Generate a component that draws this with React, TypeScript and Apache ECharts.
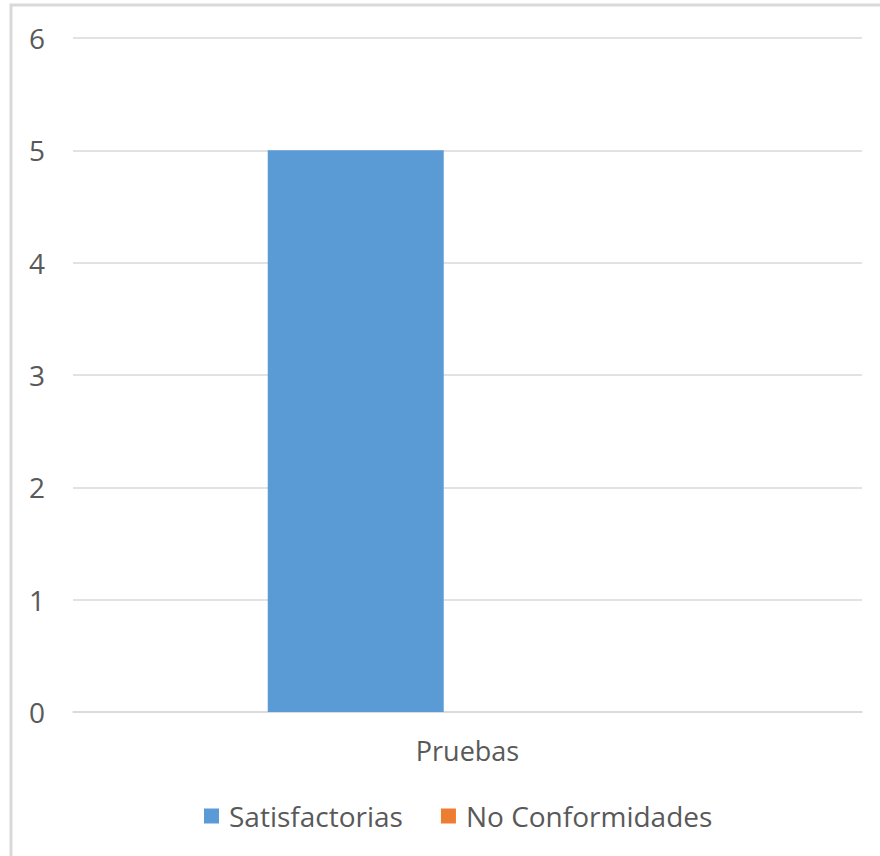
import React, { useEffect, useRef } from "react";
import * as echarts from "echarts";

const categories = ["Pruebas"];
const satisfactorias = [5];
const noConformidades = [0];
const seriesNames = ["Satisfactorias", "No Conformidades"];

export default function App() {
  const ref = useRef<HTMLDivElement>(null);
  useEffect(() => {
    document.body.style.margin = "0";
    const chart = echarts.init(ref.current!, null, { renderer: "svg" });
    const font = "'Open Sans', sans-serif";
    chart.setOption({
      animation: false,
      backgroundColor: "#ffffff",
      graphic: [
        {
          type: "rect",
          shape: { x: 11, y: 5, width: 900, height: 900 },
          style: { fill: "none", stroke: "#d9d9d9", lineWidth: 3 },
          silent: true,
        },
      ],
      grid: { left: 73, right: 18, top: 38, bottom: 144 },
      legend: {
        left: 199,
        top: 797,
        itemWidth: 15,
        itemHeight: 15,
        itemGap: 38,
        icon: "rect",
        textStyle: { fontFamily: font, fontSize: 28, color: "#595959", padding: [0, 0, 0, 5] },
        data: seriesNames,
      },
      xAxis: {
        type: "category",
        data: categories,
        axisLine: { show: true, lineStyle: { color: "#d9d9d9", width: 1.5 } },
        axisTick: { show: false },
        axisLabel: { fontFamily: font, fontSize: 27, color: "#595959", margin: 25 },
      },
      yAxis: {
        type: "value",
        min: 0,
        max: 6,
        interval: 1,
        axisLine: { show: false },
        axisTick: { show: false },
        splitLine: { lineStyle: { color: "#d9d9d9", width: 1.5 } },
        axisLabel: { fontFamily: font, fontSize: 28, color: "#595959", margin: 28 },
      },
      series: [
        {
          name: seriesNames[0],
          type: "bar",
          data: satisfactorias,
          itemStyle: { color: "#5b9bd5" },
          barWidth: 176,
          barGap: "27%",
        },
        {
          name: seriesNames[1],
          type: "bar",
          data: noConformidades,
          itemStyle: { color: "#ed7d31" },
          barWidth: 176,
          barGap: "27%",
        },
      ],
    });
    return () => chart.dispose();
  }, []);
  return <div ref={ref} style={{ width: 880, height: 856 }} />;
}
